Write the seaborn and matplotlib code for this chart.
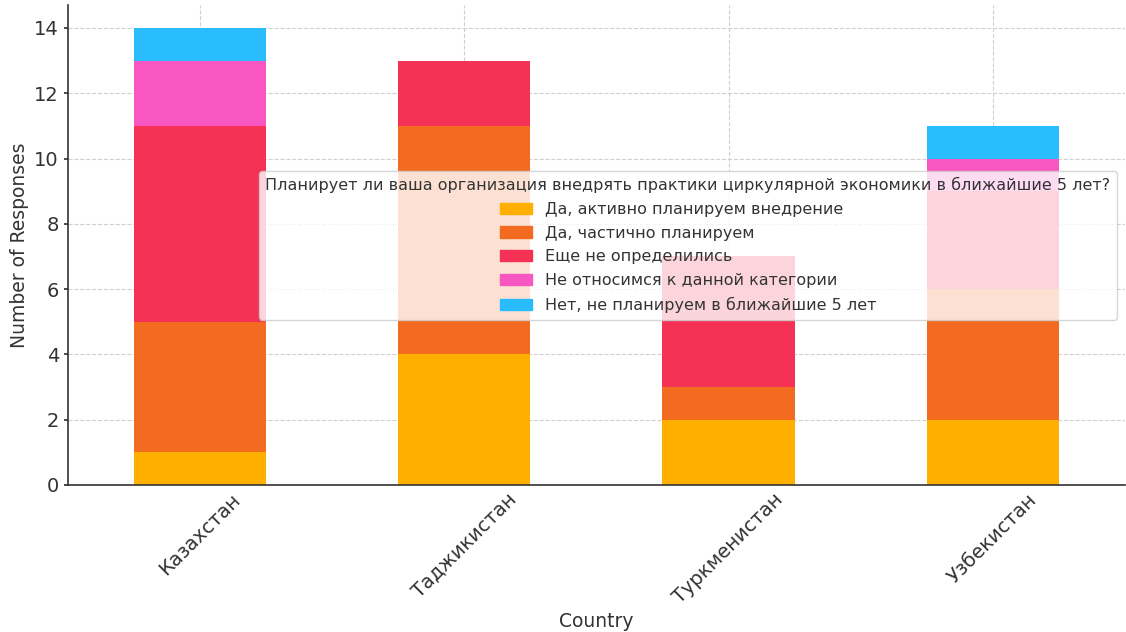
import pandas as pd
import numpy as np
import matplotlib
matplotlib.use("Agg")
import matplotlib.pyplot as plt
import seaborn as sns
from matplotlib.patches import Patch

countries = ["Казахстан", "Таджикистан", "Туркменистан", "Узбекистан"]
answers = [
    "Да, активно планируем внедрение",
    "Да, частично планируем",
    "Еще не определились",
    "Не относимся к данной категории",
    "Нет, не планируем в ближайшие 5 лет",
]
active = [1, 4, 2, 2]
partly = [4, 7, 1, 4]
undecided = [6, 2, 4, 3]
not_relevant = [2, 0, 0, 1]
no_plans = [1, 0, 0, 1]

colors = ["#FFAF00", "#F26B21", "#F53255", "#F857C1", "#29BDFD"]
legend_title = "Планирует ли ваша организация внедрять практики циркулярной экономики в ближайшие 5 лет?"

sns.set_theme(style="whitegrid")
plt.rcParams["font.family"] = ["DejaVu Sans"]
plt.rcParams["text.color"] = "#333333"
plt.rcParams["axes.labelcolor"] = "#333333"
plt.rcParams["xtick.color"] = "#333333"
plt.rcParams["ytick.color"] = "#333333"

df = pd.DataFrame({"Country": countries, answers[0]: active, answers[1]: partly,
                   answers[2]: undecided, answers[3]: not_relevant, answers[4]: no_plans})
cum = df[answers].cumsum(axis=1)

fig = plt.figure(figsize=(11.26, 6.32), dpi=100)
ax = fig.add_axes([0.0604, 0.2326, 0.9386, 0.7594])

# draw cumulative totals from the top category down so each segment shows
for ans, col in reversed(list(zip(answers, colors))):
    sns.barplot(x=df["Country"], y=cum[ans], color=col, width=0.5,
                saturation=1, linewidth=0, ax=ax)

ax.set_ylim(0, 14.7)
ax.set_xlim(-0.5, 3.5)
ax.set_xlabel("Country", fontsize=13.5)
ax.set_ylabel("Number of Responses", fontsize=13.5)
ax.tick_params(axis="both", labelsize=14)
ax.tick_params(axis="x", direction="in", length=4)
ax.tick_params(axis="y", length=3, left=True)
plt.setp(ax.get_xticklabels(), rotation=45)
ax.grid(True, linestyle="--", color="#d0d0d0", linewidth=0.8)
ax.set_axisbelow(True)
for s in ["top", "right"]:
    ax.spines[s].set_visible(False)
for s in ["left", "bottom"]:
    ax.spines[s].set_color("#333333")
    ax.spines[s].set_linewidth(1.2)

handles = [Patch(color=c, label=a) for a, c in zip(answers, colors)]
leg = ax.legend(handles=handles, title=legend_title, loc="center right",
                fontsize=11.5, title_fontsize=11.5, frameon=True, framealpha=0.8,
                labelspacing=0.55)
leg.get_frame().set_edgecolor("#cccccc")

fig.savefig("out.png", dpi=100)
